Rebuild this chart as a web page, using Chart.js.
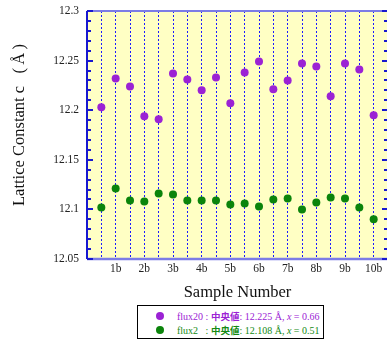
<!DOCTYPE html>
<html>
<head>
<meta charset="utf-8">
<script src="https://cdn.jsdelivr.net/npm/chart.js@4.4.1/dist/chart.umd.min.js"></script>
<style>
html,body{margin:0;padding:0;background:#fff;}
#wrap{position:relative;width:387px;height:340px;overflow:hidden;}
#c{position:absolute;left:0;top:0;}
#legend{position:absolute;left:137px;top:305px;width:187px;height:34px;border:1px solid #000;box-sizing:border-box;font-family:"Liberation Serif","DejaVu Serif",serif;font-size:10px;background:#fff;}
.row{position:absolute;left:0;height:12px;line-height:12px;white-space:pre;}
.dot{position:absolute;left:18px;width:8px;height:8px;border-radius:50%;top:2px;}
.txt{position:absolute;left:39px;top:0;}
.cjk{font-family:"Noto Sans CJK JP",sans-serif;font-weight:bold;font-size:9.5px;}
</style>
</head>
<body>
<div id="wrap">
<canvas id="c" width="392" height="340"></canvas>
<div id="legend">
  <div class="row" style="top:4px;color:#9b22d4"><span class="dot" style="background:#9b22d4"></span><span class="txt">flux20 : <span class="cjk">中央値</span>: 12.225 Å, <i>x</i> = 0.66</span></div>
  <div class="row" style="top:18px;color:#138a13"><span class="dot" style="background:#0b840b"></span><span class="txt">flux2   : <span class="cjk">中央値</span>: 12.108 Å, <i>x</i> = 0.51</span></div>
</div>
</div>
<script>
// ---- data ----
const sampleIndex = [1,2,3,4,5,6,7,8,9,10,11,12,13,14,15,16,17,18,19,20];
const tickLabels = ['1b','2b','3b','4b','5b','6b','7b','8b','9b','10b'];
const flux20 = [12.203,12.232,12.224,12.194,12.191,12.237,12.231,12.220,12.233,12.207,
                12.238,12.249,12.221,12.230,12.247,12.244,12.214,12.247,12.241,12.195];
const flux2  = [12.102,12.121,12.109,12.108,12.116,12.115,12.109,12.109,12.109,12.105,
                12.106,12.103,12.110,12.111,12.100,12.107,12.112,12.111,12.102,12.090];
const yMin = 12.05, yMax = 12.3, yMajor = 0.05, yMinor = 0.01;
const xMin = 0, xMax = 21;
const yTitle = 'Lattice Constant c \u2002(\u2009Å\u2009)';
const xTitle = 'Sample Number';

const serif = '"Liberation Serif","DejaVu Serif",serif';

const frame = {
  id:'frame',
  beforeDraw(chart){
    const {ctx, chartArea:a} = chart;
    ctx.save();
    ctx.fillStyle = '#ffffc4';
    ctx.fillRect(a.left, a.top, a.right-a.left, a.bottom-a.top);
    ctx.restore();
  },
  afterDatasetsDraw(chart){
    const {ctx, chartArea:a, scales} = chart;
    const y = scales.y;
    ctx.save();
    ctx.strokeStyle = '#7c7ce6';
    ctx.lineWidth = 2.5;
    ctx.beginPath(); ctx.moveTo(a.left, a.bottom); ctx.lineTo(a.right, a.bottom); ctx.stroke();
    ctx.lineWidth = 2;
    ctx.beginPath(); ctx.moveTo(a.left, a.top); ctx.lineTo(a.right, a.top); ctx.stroke();
    ctx.strokeStyle = '#1818d0';
    ctx.lineWidth = 2;
    ctx.beginPath(); ctx.moveTo(a.left, a.top); ctx.lineTo(a.left, a.bottom); ctx.stroke();
    ctx.beginPath(); ctx.moveTo(a.right, a.top); ctx.lineTo(a.right, a.bottom); ctx.stroke();
    const n = Math.round((yMax-yMin)/yMinor);
    const per = Math.round(yMajor/yMinor);
    for(let i=0;i<=n;i++){
      const v = yMin + i*yMinor;
      const py = Math.round(y.getPixelForValue(v));
      const len = (i % per) === 0 ? 6 : 4;
      ctx.beginPath(); ctx.moveTo(a.left, py); ctx.lineTo(a.left+len, py); ctx.stroke();
      ctx.beginPath(); ctx.moveTo(a.right, py); ctx.lineTo(a.right-len, py); ctx.stroke();
    }
    ctx.fillStyle = '#111';
    ctx.font = '16.5px ' + serif;
    ctx.textAlign = 'center';
    ctx.textBaseline = 'middle';
    ctx.translate(20, 125);
    ctx.rotate(-Math.PI/2);
    ctx.fillText(yTitle, 0, 0);
    ctx.restore();
  }
};

new Chart(document.getElementById('c'), {
  type:'scatter',
  data:{
    datasets:[
      {label:'flux20', data: sampleIndex.map((x,i)=>({x, y:flux20[i]})),
       backgroundColor:'#9b22d4', borderColor:'#9b22d4', pointRadius:4, pointHoverRadius:4, borderWidth:0},
      {label:'flux2', data: sampleIndex.map((x,i)=>({x, y:flux2[i]})),
       backgroundColor:'#0b840b', borderColor:'#0b840b', pointRadius:4, pointHoverRadius:4, borderWidth:0}
    ]
  },
  options:{
    responsive:false,
    animation:false,
    layout:{padding:{top:11,right:3,bottom:36,left:0}},
    plugins:{legend:{display:false}, tooltip:{enabled:false}},
    scales:{
      x:{
        type:'linear', min:xMin, max:xMax,
        afterBuildTicks(s){ s.ticks = sampleIndex.map(v=>({value:v})); },
        afterFit(s){ s.height = 45; s.paddingLeft = 0; s.paddingRight = 0; },
        ticks:{
          autoSkip:false, maxRotation:0, padding:3,
          color:'#222', font:{family:serif, size:11.5},
          callback(v){ return (v % 2 === 0) ? tickLabels[v/2-1] : ''; }
        },
        grid:{display:true, drawTicks:false, color:'#1a1aff', lineWidth:1},
        border:{display:false, dash:[2,2]},
        title:{display:true, text:xTitle, color:'#111', font:{family:serif, size:16.5}, padding:{top:0,bottom:1}}
      },
      y:{
        type:'linear', min:yMin, max:yMax,
        afterFit(s){ s.width = 87; s.paddingTop = 0; s.paddingBottom = 0; },
        ticks:{
          stepSize:yMajor, padding:8, color:'#222', font:{family:serif, size:11.5},
          callback(v){ return parseFloat(v.toFixed(2)).toString(); }
        },
        grid:{display:false, drawTicks:false},
        border:{display:false}
      }
    }
  },
  plugins:[frame]
});
</script>
</body>
</html>
